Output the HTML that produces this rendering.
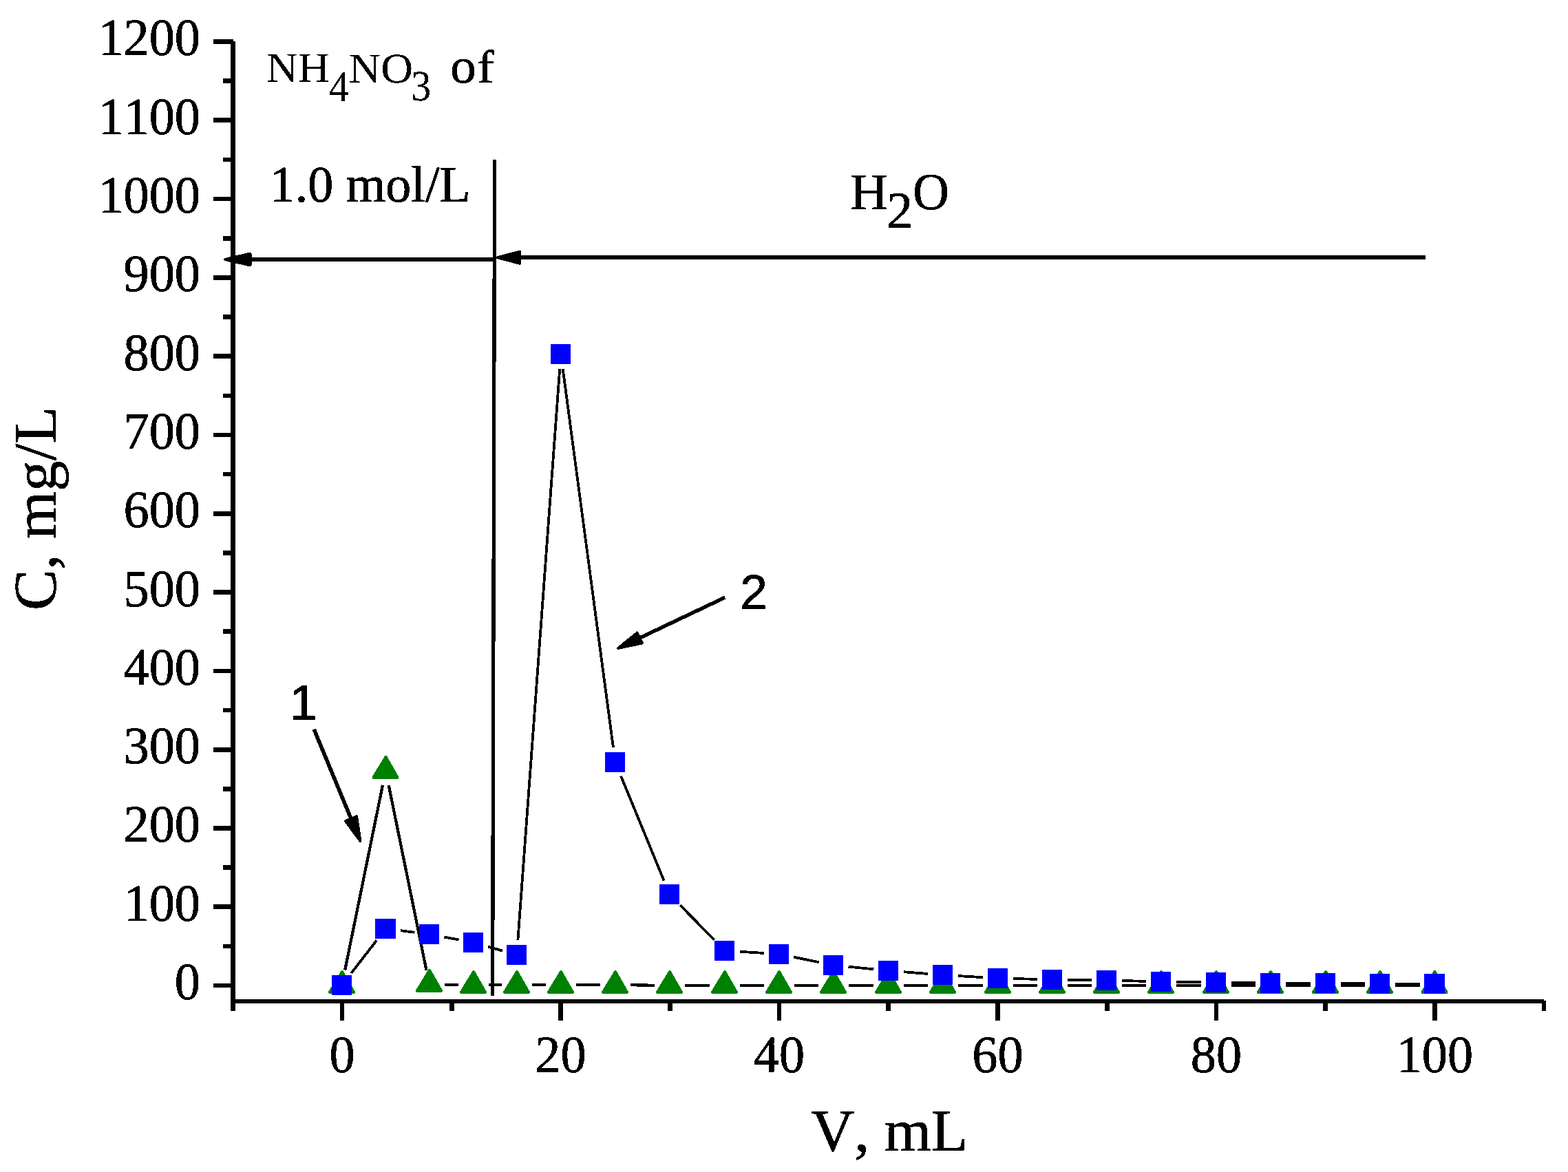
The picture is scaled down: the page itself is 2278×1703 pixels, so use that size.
<!DOCTYPE html>
<html lang="en">
<head>
<meta charset="utf-8">
<title>Elution curves: C, mg/L vs V, mL</title>
<style>
html, body { margin: 0; padding: 0; background: #ffffff; }
body { width: 2278px; height: 1703px; overflow: hidden; }
svg { display: block; }
text { fill: #000; stroke: #000; stroke-width: 0.7px; stroke-linejoin: round; font-kerning: none; font-variant-ligatures: none; text-rendering: geometricPrecision; white-space: pre; }
</style>
</head>
<body>
<svg width="2278" height="1703" viewBox="0 0 2278 1703">
<defs>
<filter id="bw" filterUnits="userSpaceOnUse" x="0" y="0" width="2278" height="1703" color-interpolation-filters="sRGB">
<feComponentTransfer><feFuncA type="discrete" tableValues="0 1"/></feComponentTransfer>
</filter>
</defs>
<rect x="0" y="0" width="2278" height="1703" fill="#ffffff"/>
<g id="chart" filter="url(#bw)" shape-rendering="crispEdges">
<g id="green-series">
<line x1="501.18" y1="1409.54" x2="555.99" y2="1140.72" stroke="#000" stroke-width="4.2" stroke-linecap="butt"/>
<line x1="564.68" y1="1141.06" x2="619.49" y2="1409.88" stroke="#000" stroke-width="4.2" stroke-linecap="butt"/>
<line x1="645.70" y1="1431.00" x2="666.25" y2="1431.00" stroke="#000" stroke-width="4.2" stroke-linecap="butt"/>
<line x1="709.70" y1="1431.00" x2="729.25" y2="1431.00" stroke="#000" stroke-width="4.2" stroke-linecap="butt"/>
<line x1="772.70" y1="1431.00" x2="793.25" y2="1431.00" stroke="#000" stroke-width="4.2" stroke-linecap="butt"/>
<line x1="836.70" y1="1431.00" x2="872.25" y2="1431.00" stroke="#000" stroke-width="4.2" stroke-linecap="butt"/>
<line x1="915.70" y1="1431.28" x2="951.25" y2="1431.73" stroke="#000" stroke-width="4.2" stroke-linecap="butt"/>
<line x1="994.70" y1="1432.00" x2="1031.25" y2="1432.00" stroke="#000" stroke-width="4.2" stroke-linecap="butt"/>
<line x1="1074.70" y1="1432.00" x2="1110.25" y2="1432.00" stroke="#000" stroke-width="4.2" stroke-linecap="butt"/>
<line x1="1153.70" y1="1432.00" x2="1189.25" y2="1432.00" stroke="#000" stroke-width="4.2" stroke-linecap="butt"/>
<line x1="1232.70" y1="1432.00" x2="1269.25" y2="1432.00" stroke="#000" stroke-width="4.2" stroke-linecap="butt"/>
<line x1="1312.70" y1="1432.00" x2="1348.25" y2="1432.00" stroke="#000" stroke-width="4.2" stroke-linecap="butt"/>
<line x1="1391.70" y1="1432.00" x2="1428.25" y2="1432.00" stroke="#000" stroke-width="4.2" stroke-linecap="butt"/>
<line x1="1471.70" y1="1432.00" x2="1507.25" y2="1432.00" stroke="#000" stroke-width="4.2" stroke-linecap="butt"/>
<line x1="1550.70" y1="1432.00" x2="1586.25" y2="1432.00" stroke="#000" stroke-width="4.2" stroke-linecap="butt"/>
<line x1="1629.70" y1="1432.00" x2="1665.25" y2="1432.00" stroke="#000" stroke-width="4.2" stroke-linecap="butt"/>
<line x1="1708.70" y1="1432.00" x2="1745.25" y2="1432.00" stroke="#000" stroke-width="4.2" stroke-linecap="butt"/>
<line x1="1788.70" y1="1432.00" x2="1824.25" y2="1432.00" stroke="#000" stroke-width="4.2" stroke-linecap="butt"/>
<line x1="1867.70" y1="1432.00" x2="1904.25" y2="1432.00" stroke="#000" stroke-width="4.2" stroke-linecap="butt"/>
<line x1="1947.70" y1="1432.00" x2="1983.25" y2="1432.00" stroke="#000" stroke-width="4.2" stroke-linecap="butt"/>
<line x1="2026.70" y1="1432.00" x2="2062.75" y2="1432.00" stroke="#000" stroke-width="4.2" stroke-linecap="butt"/>
<polygon points="495.90,1410.00 498.10,1410.00 515.90,1441.00 515.90,1442.80 514.50,1444.10 478.50,1444.10 477.10,1442.80 477.10,1441.00" fill="#008000"/>
<polygon points="559.40,1097.90 561.60,1097.90 579.40,1128.90 579.40,1130.70 578.00,1132.00 542.00,1132.00 540.60,1130.70 540.60,1128.90" fill="#008000"/>
<polygon points="622.90,1407.80 625.10,1407.80 642.90,1438.80 642.90,1440.60 641.50,1441.90 605.50,1441.90 604.10,1440.60 604.10,1438.80" fill="#008000"/>
<polygon points="686.90,1410.00 689.10,1410.00 706.90,1441.00 706.90,1442.80 705.50,1444.10 669.50,1444.10 668.10,1442.80 668.10,1441.00" fill="#008000"/>
<polygon points="749.90,1410.00 752.10,1410.00 769.90,1441.00 769.90,1442.80 768.50,1444.10 732.50,1444.10 731.10,1442.80 731.10,1441.00" fill="#008000"/>
<polygon points="813.90,1410.00 816.10,1410.00 833.90,1441.00 833.90,1442.80 832.50,1444.10 796.50,1444.10 795.10,1442.80 795.10,1441.00" fill="#008000"/>
<polygon points="892.90,1410.00 895.10,1410.00 912.90,1441.00 912.90,1442.80 911.50,1444.10 875.50,1444.10 874.10,1442.80 874.10,1441.00" fill="#008000"/>
<polygon points="971.90,1410.00 974.10,1410.00 991.90,1441.00 991.90,1442.80 990.50,1444.10 954.50,1444.10 953.10,1442.80 953.10,1441.00" fill="#008000"/>
<polygon points="1051.90,1410.00 1054.10,1410.00 1071.90,1441.00 1071.90,1442.80 1070.50,1444.10 1034.50,1444.10 1033.10,1442.80 1033.10,1441.00" fill="#008000"/>
<polygon points="1130.90,1410.00 1133.10,1410.00 1150.90,1441.00 1150.90,1442.80 1149.50,1444.10 1113.50,1444.10 1112.10,1442.80 1112.10,1441.00" fill="#008000"/>
<polygon points="1209.90,1410.00 1212.10,1410.00 1229.90,1441.00 1229.90,1442.80 1228.50,1444.10 1192.50,1444.10 1191.10,1442.80 1191.10,1441.00" fill="#008000"/>
<polygon points="1289.90,1410.00 1292.10,1410.00 1309.90,1441.00 1309.90,1442.80 1308.50,1444.10 1272.50,1444.10 1271.10,1442.80 1271.10,1441.00" fill="#008000"/>
<polygon points="1368.90,1410.00 1371.10,1410.00 1388.90,1441.00 1388.90,1442.80 1387.50,1444.10 1351.50,1444.10 1350.10,1442.80 1350.10,1441.00" fill="#008000"/>
<polygon points="1448.90,1410.00 1451.10,1410.00 1468.90,1441.00 1468.90,1442.80 1467.50,1444.10 1431.50,1444.10 1430.10,1442.80 1430.10,1441.00" fill="#008000"/>
<polygon points="1527.90,1410.00 1530.10,1410.00 1547.90,1441.00 1547.90,1442.80 1546.50,1444.10 1510.50,1444.10 1509.10,1442.80 1509.10,1441.00" fill="#008000"/>
<polygon points="1606.90,1410.00 1609.10,1410.00 1626.90,1441.00 1626.90,1442.80 1625.50,1444.10 1589.50,1444.10 1588.10,1442.80 1588.10,1441.00" fill="#008000"/>
<polygon points="1685.90,1410.00 1688.10,1410.00 1705.90,1441.00 1705.90,1442.80 1704.50,1444.10 1668.50,1444.10 1667.10,1442.80 1667.10,1441.00" fill="#008000"/>
<polygon points="1765.90,1410.00 1768.10,1410.00 1785.90,1441.00 1785.90,1442.80 1784.50,1444.10 1748.50,1444.10 1747.10,1442.80 1747.10,1441.00" fill="#008000"/>
<polygon points="1844.90,1410.00 1847.10,1410.00 1864.90,1441.00 1864.90,1442.80 1863.50,1444.10 1827.50,1444.10 1826.10,1442.80 1826.10,1441.00" fill="#008000"/>
<polygon points="1924.90,1410.00 1927.10,1410.00 1944.90,1441.00 1944.90,1442.80 1943.50,1444.10 1907.50,1444.10 1906.10,1442.80 1906.10,1441.00" fill="#008000"/>
<polygon points="2003.90,1410.00 2006.10,1410.00 2023.90,1441.00 2023.90,1442.80 2022.50,1444.10 1986.50,1444.10 1985.10,1442.80 1985.10,1441.00" fill="#008000"/>
<polygon points="2083.40,1410.00 2085.60,1410.00 2103.40,1441.00 2103.40,1442.80 2102.00,1444.10 2066.00,1444.10 2064.60,1442.80 2064.60,1441.00" fill="#008000"/>
</g>
<g id="blue-series">
<line x1="510.21" y1="1414.18" x2="547.11" y2="1366.54" stroke="#000" stroke-width="3.8" stroke-linecap="butt"/>
<line x1="582.03" y1="1352.24" x2="602.42" y2="1354.81" stroke="#000" stroke-width="3.8" stroke-linecap="butt"/>
<line x1="645.32" y1="1361.54" x2="666.62" y2="1365.53" stroke="#000" stroke-width="3.8" stroke-linecap="butt"/>
<line x1="708.86" y1="1375.52" x2="730.08" y2="1381.58" stroke="#000" stroke-width="3.8" stroke-linecap="butt"/>
<line x1="752.40" y1="1365.66" x2="813.22" y2="535.89" stroke="#000" stroke-width="3.8" stroke-linecap="butt"/>
<line x1="817.69" y1="536.11" x2="890.95" y2="1086.14" stroke="#000" stroke-width="3.8" stroke-linecap="butt"/>
<line x1="902.13" y1="1127.75" x2="964.60" y2="1279.57" stroke="#000" stroke-width="3.8" stroke-linecap="butt"/>
<line x1="988.10" y1="1315.17" x2="1037.74" y2="1365.98" stroke="#000" stroke-width="3.8" stroke-linecap="butt"/>
<line x1="1074.66" y1="1382.76" x2="1110.29" y2="1384.97" stroke="#000" stroke-width="3.8" stroke-linecap="butt"/>
<line x1="1153.25" y1="1390.70" x2="1189.69" y2="1398.17" stroke="#000" stroke-width="3.8" stroke-linecap="butt"/>
<line x1="1232.59" y1="1404.68" x2="1269.36" y2="1408.36" stroke="#000" stroke-width="3.8" stroke-linecap="butt"/>
<line x1="1312.63" y1="1412.21" x2="1348.32" y2="1415.01" stroke="#000" stroke-width="3.8" stroke-linecap="butt"/>
<line x1="1391.66" y1="1418.01" x2="1428.29" y2="1420.21" stroke="#000" stroke-width="3.8" stroke-linecap="butt"/>
<line x1="1471.69" y1="1422.03" x2="1507.26" y2="1422.88" stroke="#000" stroke-width="3.8" stroke-linecap="butt"/>
<line x1="1550.70" y1="1423.70" x2="1586.25" y2="1424.20" stroke="#000" stroke-width="3.8" stroke-linecap="butt"/>
<line x1="1629.69" y1="1425.03" x2="1665.26" y2="1425.88" stroke="#000" stroke-width="3.8" stroke-linecap="butt"/>
<line x1="1708.70" y1="1426.70" x2="1745.25" y2="1427.20" stroke="#000" stroke-width="3.8" stroke-linecap="butt"/>
<line x1="1788.70" y1="1427.78" x2="1824.25" y2="1428.23" stroke="#000" stroke-width="3.8" stroke-linecap="butt"/>
<line x1="1867.70" y1="1428.50" x2="1904.25" y2="1428.50" stroke="#000" stroke-width="3.8" stroke-linecap="butt"/>
<line x1="1947.70" y1="1428.78" x2="1983.25" y2="1429.23" stroke="#000" stroke-width="3.8" stroke-linecap="butt"/>
<line x1="2026.70" y1="1429.50" x2="2062.75" y2="1429.50" stroke="#000" stroke-width="3.8" stroke-linecap="butt"/>
<rect x="481.90" y="1417.00" width="29.2" height="29" fill="#0000ff"/>
<rect x="545.40" y="1335.00" width="29.2" height="29" fill="#0000ff"/>
<rect x="608.90" y="1343.00" width="29.2" height="29" fill="#0000ff"/>
<rect x="672.90" y="1355.00" width="29.2" height="29" fill="#0000ff"/>
<rect x="735.90" y="1373.00" width="29.2" height="29" fill="#0000ff"/>
<rect x="799.90" y="499.90" width="29.2" height="29" fill="#0000ff"/>
<rect x="878.90" y="1093.00" width="29.2" height="29" fill="#0000ff"/>
<rect x="957.90" y="1285.00" width="29.2" height="29" fill="#0000ff"/>
<rect x="1037.90" y="1366.90" width="29.2" height="29" fill="#0000ff"/>
<rect x="1116.90" y="1371.80" width="29.2" height="29" fill="#0000ff"/>
<rect x="1195.90" y="1388.00" width="29.2" height="29" fill="#0000ff"/>
<rect x="1275.90" y="1396.00" width="29.2" height="29" fill="#0000ff"/>
<rect x="1354.90" y="1402.20" width="29.2" height="29" fill="#0000ff"/>
<rect x="1434.90" y="1407.00" width="29.2" height="29" fill="#0000ff"/>
<rect x="1513.90" y="1408.90" width="29.2" height="29" fill="#0000ff"/>
<rect x="1592.90" y="1410.00" width="29.2" height="29" fill="#0000ff"/>
<rect x="1671.90" y="1411.90" width="29.2" height="29" fill="#0000ff"/>
<rect x="1751.90" y="1413.00" width="29.2" height="29" fill="#0000ff"/>
<rect x="1830.90" y="1414.00" width="29.2" height="29" fill="#0000ff"/>
<rect x="1910.90" y="1414.00" width="29.2" height="29" fill="#0000ff"/>
<rect x="1989.90" y="1415.00" width="29.2" height="29" fill="#0000ff"/>
<rect x="2069.40" y="1415.00" width="29.2" height="29" fill="#0000ff"/>
</g>
<g id="axes">
<line x1="338.50" y1="60.00" x2="338.50" y2="1469.00" stroke="#000" stroke-width="7.0" stroke-linecap="butt"/>
<line x1="338.50" y1="1455.00" x2="2243.00" y2="1455.00" stroke="#000" stroke-width="6.0" stroke-linecap="butt"/>
<line x1="310.00" y1="1432.10" x2="339.00" y2="1432.10" stroke="#000" stroke-width="6.67" stroke-linecap="butt"/>
<line x1="324.00" y1="1374.95" x2="338.50" y2="1374.95" stroke="#000" stroke-width="6.67" stroke-linecap="butt"/>
<line x1="310.00" y1="1317.80" x2="339.00" y2="1317.80" stroke="#000" stroke-width="6.67" stroke-linecap="butt"/>
<line x1="324.00" y1="1260.65" x2="338.50" y2="1260.65" stroke="#000" stroke-width="6.67" stroke-linecap="butt"/>
<line x1="310.00" y1="1203.50" x2="339.00" y2="1203.50" stroke="#000" stroke-width="6.67" stroke-linecap="butt"/>
<line x1="324.00" y1="1146.35" x2="338.50" y2="1146.35" stroke="#000" stroke-width="6.67" stroke-linecap="butt"/>
<line x1="310.00" y1="1089.20" x2="339.00" y2="1089.20" stroke="#000" stroke-width="6.67" stroke-linecap="butt"/>
<line x1="324.00" y1="1032.05" x2="338.50" y2="1032.05" stroke="#000" stroke-width="6.67" stroke-linecap="butt"/>
<line x1="310.00" y1="974.90" x2="339.00" y2="974.90" stroke="#000" stroke-width="6.67" stroke-linecap="butt"/>
<line x1="324.00" y1="917.75" x2="338.50" y2="917.75" stroke="#000" stroke-width="6.67" stroke-linecap="butt"/>
<line x1="310.00" y1="860.60" x2="339.00" y2="860.60" stroke="#000" stroke-width="6.67" stroke-linecap="butt"/>
<line x1="324.00" y1="803.45" x2="338.50" y2="803.45" stroke="#000" stroke-width="6.67" stroke-linecap="butt"/>
<line x1="310.00" y1="746.30" x2="339.00" y2="746.30" stroke="#000" stroke-width="6.67" stroke-linecap="butt"/>
<line x1="324.00" y1="689.15" x2="338.50" y2="689.15" stroke="#000" stroke-width="6.67" stroke-linecap="butt"/>
<line x1="310.00" y1="632.00" x2="339.00" y2="632.00" stroke="#000" stroke-width="6.67" stroke-linecap="butt"/>
<line x1="324.00" y1="574.85" x2="338.50" y2="574.85" stroke="#000" stroke-width="6.67" stroke-linecap="butt"/>
<line x1="310.00" y1="517.70" x2="339.00" y2="517.70" stroke="#000" stroke-width="6.67" stroke-linecap="butt"/>
<line x1="324.00" y1="460.55" x2="338.50" y2="460.55" stroke="#000" stroke-width="6.67" stroke-linecap="butt"/>
<line x1="310.00" y1="403.40" x2="339.00" y2="403.40" stroke="#000" stroke-width="6.67" stroke-linecap="butt"/>
<line x1="324.00" y1="346.25" x2="338.50" y2="346.25" stroke="#000" stroke-width="6.67" stroke-linecap="butt"/>
<line x1="310.00" y1="289.10" x2="339.00" y2="289.10" stroke="#000" stroke-width="6.67" stroke-linecap="butt"/>
<line x1="324.00" y1="231.95" x2="338.50" y2="231.95" stroke="#000" stroke-width="6.67" stroke-linecap="butt"/>
<line x1="310.00" y1="174.80" x2="339.00" y2="174.80" stroke="#000" stroke-width="6.67" stroke-linecap="butt"/>
<line x1="324.00" y1="117.65" x2="338.50" y2="117.65" stroke="#000" stroke-width="6.67" stroke-linecap="butt"/>
<line x1="310.00" y1="60.50" x2="339.00" y2="60.50" stroke="#000" stroke-width="6.67" stroke-linecap="butt"/>
<line x1="497.00" y1="1455.30" x2="497.00" y2="1483.00" stroke="#000" stroke-width="6.67" stroke-linecap="butt"/>
<line x1="814.48" y1="1455.30" x2="814.48" y2="1483.00" stroke="#000" stroke-width="6.67" stroke-linecap="butt"/>
<line x1="1131.96" y1="1455.30" x2="1131.96" y2="1483.00" stroke="#000" stroke-width="6.67" stroke-linecap="butt"/>
<line x1="1449.44" y1="1455.30" x2="1449.44" y2="1483.00" stroke="#000" stroke-width="6.67" stroke-linecap="butt"/>
<line x1="1766.92" y1="1455.30" x2="1766.92" y2="1483.00" stroke="#000" stroke-width="6.67" stroke-linecap="butt"/>
<line x1="2084.40" y1="1455.30" x2="2084.40" y2="1483.00" stroke="#000" stroke-width="6.67" stroke-linecap="butt"/>
<line x1="656.44" y1="1455.30" x2="656.44" y2="1469.00" stroke="#000" stroke-width="6.67" stroke-linecap="butt"/>
<line x1="973.22" y1="1455.30" x2="973.22" y2="1469.00" stroke="#000" stroke-width="6.67" stroke-linecap="butt"/>
<line x1="1290.70" y1="1455.30" x2="1290.70" y2="1469.00" stroke="#000" stroke-width="6.67" stroke-linecap="butt"/>
<line x1="1608.18" y1="1455.30" x2="1608.18" y2="1469.00" stroke="#000" stroke-width="6.67" stroke-linecap="butt"/>
<line x1="1925.66" y1="1455.30" x2="1925.66" y2="1469.00" stroke="#000" stroke-width="6.67" stroke-linecap="butt"/>
<line x1="2243.00" y1="1454.00" x2="2243.00" y2="1469.00" stroke="#000" stroke-width="6.0" stroke-linecap="butt"/>
</g>
<g id="ticklabels" fill="#000">
<text transform="translate(290.90 1452.00) scale(0.9720 1)" font-family='"Liberation Serif", serif' font-size="76.4" text-anchor="end">0</text>
<text transform="translate(290.90 1337.70) scale(0.9720 1)" font-family='"Liberation Serif", serif' font-size="76.4" text-anchor="end">100</text>
<text transform="translate(290.90 1223.40) scale(0.9720 1)" font-family='"Liberation Serif", serif' font-size="76.4" text-anchor="end">200</text>
<text transform="translate(290.90 1109.10) scale(0.9720 1)" font-family='"Liberation Serif", serif' font-size="76.4" text-anchor="end">300</text>
<text transform="translate(290.90 994.80) scale(0.9720 1)" font-family='"Liberation Serif", serif' font-size="76.4" text-anchor="end">400</text>
<text transform="translate(290.90 880.50) scale(0.9720 1)" font-family='"Liberation Serif", serif' font-size="76.4" text-anchor="end">500</text>
<text transform="translate(290.90 766.20) scale(0.9720 1)" font-family='"Liberation Serif", serif' font-size="76.4" text-anchor="end">600</text>
<text transform="translate(290.90 651.90) scale(0.9720 1)" font-family='"Liberation Serif", serif' font-size="76.4" text-anchor="end">700</text>
<text transform="translate(290.90 537.60) scale(0.9720 1)" font-family='"Liberation Serif", serif' font-size="76.4" text-anchor="end">800</text>
<text transform="translate(290.90 423.30) scale(0.9720 1)" font-family='"Liberation Serif", serif' font-size="76.4" text-anchor="end">900</text>
<text transform="translate(290.90 309.00) scale(0.9720 1)" font-family='"Liberation Serif", serif' font-size="76.4" text-anchor="end">1000</text>
<text transform="translate(290.90 194.70) scale(0.9720 1)" font-family='"Liberation Serif", serif' font-size="76.4" text-anchor="end">1100</text>
<text transform="translate(290.90 80.40) scale(0.9720 1)" font-family='"Liberation Serif", serif' font-size="76.4" text-anchor="end">1200</text>
<text transform="translate(497.00 1558.20) scale(0.9720 1)" font-family='"Liberation Serif", serif' font-size="76.4" text-anchor="middle">0</text>
<text transform="translate(814.48 1558.20) scale(0.9720 1)" font-family='"Liberation Serif", serif' font-size="76.4" text-anchor="middle">20</text>
<text transform="translate(1131.96 1558.20) scale(0.9720 1)" font-family='"Liberation Serif", serif' font-size="76.4" text-anchor="middle">40</text>
<text transform="translate(1449.44 1558.20) scale(0.9720 1)" font-family='"Liberation Serif", serif' font-size="76.4" text-anchor="middle">60</text>
<text transform="translate(1766.92 1558.20) scale(0.9720 1)" font-family='"Liberation Serif", serif' font-size="76.4" text-anchor="middle">80</text>
<text transform="translate(2084.40 1558.20) scale(0.9720 1)" font-family='"Liberation Serif", serif' font-size="76.4" text-anchor="middle">100</text>
</g>
<g id="titles" fill="#000">
<text transform="translate(1178.30 1672.20) scale(1.0080 1)" font-family='"Liberation Serif", serif' font-size="86.6" text-anchor="start">V, mL</text>
<text transform="translate(80.60 886.80) rotate(-90) scale(1.0140 1)" font-family='"Liberation Serif", serif' font-size="87.7" text-anchor="start">C, mg/L</text>
</g>
<g id="annotations" fill="#000">
<line x1="718.60" y1="231.80" x2="715.60" y2="1447.50" stroke="#000" stroke-width="5.3" stroke-linecap="butt"/>
<line x1="717.00" y1="377.00" x2="363.50" y2="377.00" stroke="#000" stroke-width="5.6" stroke-linecap="butt"/>
<polygon points="326.90,377.00 363.50,368.60 363.50,385.40" fill="#000" stroke="#000" stroke-width="4.0" stroke-linejoin="round"/>
<line x1="2071.30" y1="374.20" x2="755.00" y2="374.20" stroke="#000" stroke-width="5.8" stroke-linecap="butt"/>
<polygon points="722.60,374.20 755.00,365.68 755.00,382.72" fill="#000" stroke="#000" stroke-width="4.0" stroke-linejoin="round"/>
<line x1="456.20" y1="1059.80" x2="510.04" y2="1189.72" stroke="#000" stroke-width="5.6" stroke-linecap="butt"/>
<polygon points="523.43,1222.05 502.01,1193.04 518.06,1186.39" fill="#000" stroke="#000" stroke-width="4.0" stroke-linejoin="round"/>
<line x1="1053.30" y1="868.10" x2="929.27" y2="927.04" stroke="#000" stroke-width="5.4" stroke-linecap="butt"/>
<polygon points="898.11,941.84 925.72,919.57 932.81,934.50" fill="#000" stroke="#000" stroke-width="4.0" stroke-linejoin="round"/>
<text font-family='"Liberation Serif", serif'><tspan x="386.70" y="119.40" font-size="61.6" textLength="92.09" lengthAdjust="spacingAndGlyphs" stroke-width="0.1">NH</tspan><tspan x="478.00" y="146.70" font-size="63.2" textLength="29.07" lengthAdjust="spacingAndGlyphs" stroke-width="0.1">4</tspan><tspan x="506.30" y="119.50" font-size="61.6" textLength="93.86" lengthAdjust="spacingAndGlyphs" stroke-width="0.1">NO</tspan><tspan x="597.30" y="146.40" font-size="63.0" textLength="28.98" lengthAdjust="spacingAndGlyphs" stroke-width="0.1">3</tspan><tspan> </tspan><tspan x="654.30" y="119.70" font-size="72.0" textLength="37.44" lengthAdjust="spacingAndGlyphs">o</tspan><tspan x="693.20" y="119.50" font-size="67.5" textLength="24.73" lengthAdjust="spacingAndGlyphs">f</tspan></text>
<text transform="translate(391.60 293.20) scale(0.9930 1)" font-family='"Liberation Serif", serif' font-size="74.6" text-anchor="start">1.0 mol/L</text>
<text font-family='"Liberation Serif", serif'><tspan x="1235.00" y="304.10" font-size="75.0" textLength="54.98" lengthAdjust="spacingAndGlyphs">H</tspan><tspan x="1287.90" y="331.10" font-size="75.2" textLength="38.35" lengthAdjust="spacingAndGlyphs">2</tspan><tspan x="1326.20" y="304.40" font-size="75.6" textLength="52.69" lengthAdjust="spacingAndGlyphs">O</tspan></text>
<text transform="translate(420.40 1046.20)" font-family='"Liberation Sans", sans-serif' font-size="72.5" text-anchor="start">1</text>
<text transform="translate(1075.20 885.10)" font-family='"Liberation Sans", sans-serif' font-size="71.2" text-anchor="start">2</text>
</g>
</g>
</svg>
</body>
</html>
